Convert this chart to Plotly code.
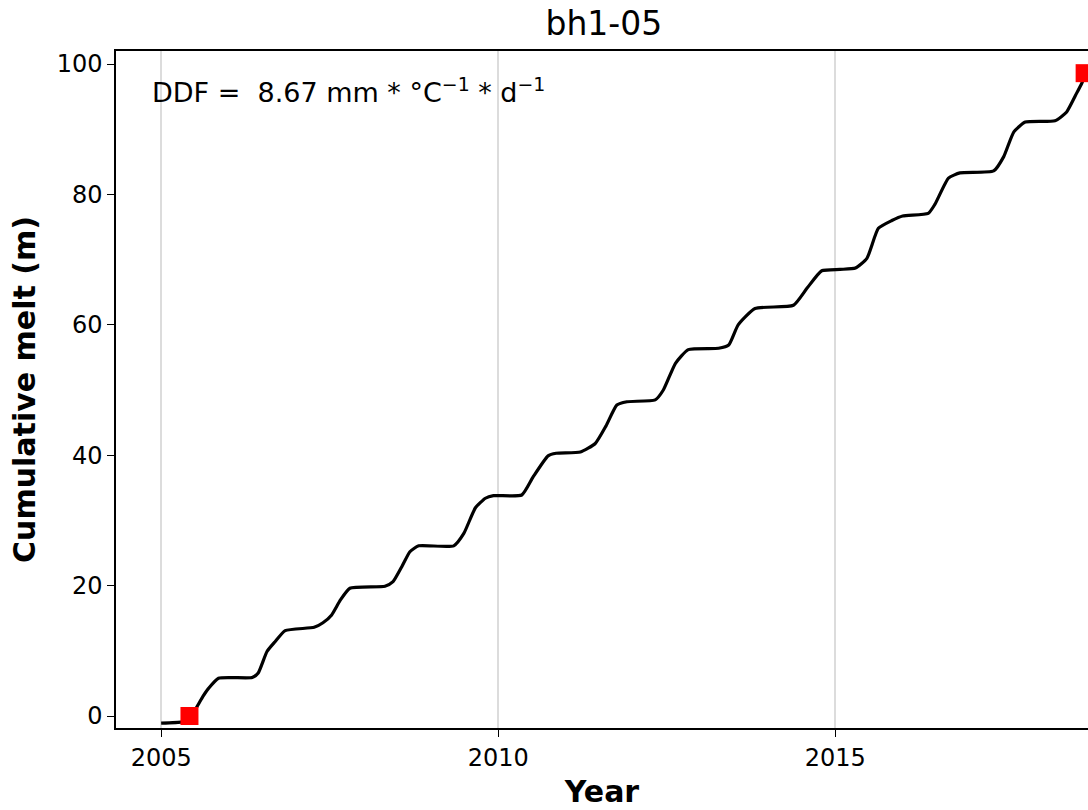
import plotly.graph_objects as go

years = [2005.00, 2005.31, 2005.42, 2005.53, 2005.62, 2005.70, 2005.85, 2006.35, 2006.44,
         2006.57, 2006.69, 2006.84, 2007.27, 2007.40, 2007.53, 2007.66, 2007.80, 2008.32,
         2008.44, 2008.57, 2008.69, 2008.82, 2009.34, 2009.49, 2009.66, 2009.81, 2009.93,
         2010.35, 2010.52, 2010.74, 2010.86, 2011.22, 2011.44, 2011.60, 2011.76, 2011.91,
         2012.33, 2012.45, 2012.63, 2012.82, 2013.27, 2013.42, 2013.56, 2013.81, 2014.38,
         2014.58, 2014.80, 2015.07, 2015.30, 2015.47, 2015.64, 2015.84, 2016.00, 2016.38,
         2016.48, 2016.68, 2016.85, 2017.35, 2017.50, 2017.65, 2017.82, 2018.26, 2018.43,
         2018.58, 2018.66, 2018.70]
melt = [-1.1, -0.9, -0.4, 1.4, 3.0, 4.2, 5.8, 5.9, 6.6,
        9.9, 11.4, 13.1, 13.6, 14.3, 15.5, 17.8, 19.6, 19.9,
        20.6, 22.9, 25.2, 26.1, 26.1, 28.0, 31.9, 33.4, 33.8,
        33.9, 36.7, 39.9, 40.3, 40.5, 41.8, 44.5, 47.7, 48.2,
        48.5, 50.0, 54.1, 56.2, 56.4, 56.9, 60.0, 62.5, 63.0,
        65.6, 68.3, 68.5, 68.7, 70.2, 74.8, 76.0, 76.7, 77.1,
        78.5, 82.5, 83.3, 83.6, 85.8, 89.6, 91.1, 91.3, 92.6,
        95.5, 97.1, 98.0]

marker_years = [2005.42, 2018.70]
marker_melt = [0.0, 98.6]

x_ticks = [2005, 2010, 2015]
y_ticks = [0, 20, 40, 60, 80, 100]

font = "DejaVu Sans"

fig = go.Figure()
fig.add_trace(go.Scatter(x=years, y=melt, mode="lines",
                         line=dict(color="black", width=3.2, shape="spline", smoothing=0.5),
                         showlegend=False))
fig.add_trace(go.Scatter(x=marker_years, y=marker_melt, mode="markers",
                         marker=dict(symbol="square", color="red", size=18,
                                     line=dict(width=0)),
                         cliponaxis=False, showlegend=False))

fig.update_layout(
    width=1088, height=810,
    margin=dict(l=116, r=0, t=51, b=82),
    plot_bgcolor="white", paper_bgcolor="white",
    font=dict(family=font, color="black", size=24),
    title=dict(text="bh1-05", x=0.555, xanchor="center", y=0.971, yanchor="middle",
               font=dict(size=33, family=font, color="black")),
    xaxis=dict(range=[2004.33, 2018.75], tickvals=x_ticks, ticktext=[str(t) for t in x_ticks],
               showgrid=True, gridcolor="#dcdcdc", gridwidth=1.5,
               showline=True, linecolor="black", linewidth=1.5, mirror=True,
               ticks="outside", ticklen=7, tickwidth=1.3, tickcolor="black",
               tickfont=dict(size=24, family=font, color="black"),
               zeroline=False,
               title=dict(text="<b>Year</b>", font=dict(size=30, family=font, color="black"), standoff=10)),
    yaxis=dict(range=[-1.84, 102.0], tickvals=y_ticks, ticktext=[str(t) for t in y_ticks],
               showgrid=False,
               showline=True, linecolor="black", linewidth=1.5, mirror=False,
               ticks="outside", ticklen=7, tickwidth=1.3, tickcolor="black",
               tickfont=dict(size=24, family=font, color="black"),
               zeroline=False,
               title=dict(text="<b>Cumulative melt (m)</b>", font=dict(size=30, family=font, color="black"), standoff=12)),
    annotations=[dict(text="DDF =&nbsp; 8.67 mm * °C<sup>−1</sup> * d<sup>−1</sup>",
                      xref="paper", yref="paper", x=0.035, y=0.941,
                      xanchor="left", yanchor="middle", showarrow=False,
                      font=dict(size=27, family=font, color="black"))],
)

fig.write_html("out.html")
